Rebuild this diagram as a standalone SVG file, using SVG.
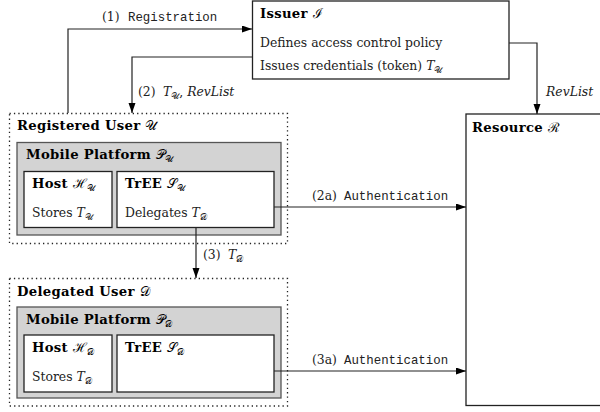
<svg xmlns="http://www.w3.org/2000/svg" width="600" height="412" viewBox="0 0 600 412">
<defs>
<marker id="ah" markerUnits="userSpaceOnUse" markerWidth="11" markerHeight="8" refX="10" refY="3.5" orient="auto">
<path d="M0,0 L10,3.5 L0,7 z" fill="#000"/>
</marker>
<style>
text{font-family:"DejaVu Serif","Liberation Serif",serif;font-size:12.4px;fill:#222}
.b{font-weight:bold;fill:#000;font-size:13.2px;letter-spacing:0.3px}
.n{font-weight:normal;letter-spacing:0}
.m{font-family:"Liberation Mono","DejaVu Sans Mono",monospace;font-size:12.4px}
.i{font-style:italic}
.sub{font-size:8.5px}
.box{fill:#fff;stroke:#222;stroke-width:1.3}
.plat{fill:#d3d3d3;stroke:#555;stroke-width:1.3}
.dot{fill:none;stroke:#222;stroke-width:1.3;stroke-dasharray:1.3 3.1}
.c{fill:none;stroke:#222;stroke-width:1.2;marker-end:url(#ah)}
</style>
</defs>

<g id="issuer">
<rect class="box" x="252.5" y="1" width="256.5" height="78"/>
<text class="b" x="260" y="18">Issuer <tspan class="n">ℐ</tspan></text>
<text x="260" y="47">Defines access control policy</text>
<text x="260" y="70">Issues credentials (token) <tspan class="i">T</tspan><tspan class="sub" dy="3">𝒰</tspan></text>
</g>

<g id="resource">
<rect class="box" x="466" y="114" width="150" height="291.5"/>
<text class="b" x="472" y="132">Resource <tspan class="n">ℛ</tspan></text>
</g>

<g id="registered-user">
<rect class="dot" x="9.5" y="113.5" width="278" height="130"/>
<text class="b" x="17" y="130">Registered User <tspan class="n">𝒰</tspan></text>
<g id="platform-u">
<rect class="plat" x="17" y="142.5" width="264" height="92.5"/>
<text class="b" x="26" y="159">Mobile Platform <tspan class="n">𝒫</tspan><tspan class="sub n" dy="3">𝒰</tspan></text>
</g>
<g id="host-u">
<rect class="box" x="24" y="171.5" width="88" height="56"/>
<text class="b" x="32" y="188">Host <tspan class="n">ℋ</tspan><tspan class="sub n" dy="3">𝒰</tspan></text>
<text x="32" y="217">Stores <tspan class="i">T</tspan><tspan class="sub" dy="3">𝒰</tspan></text>
</g>
<g id="tree-u">
<rect class="box" x="117" y="171.5" width="157" height="56"/>
<text class="b" x="125" y="188">TrEE <tspan class="n">𝒮</tspan><tspan class="sub n" dy="3">𝒰</tspan></text>
<text x="125" y="217">Delegates <tspan class="i">T</tspan><tspan class="sub" dy="3">𝒟</tspan></text>
</g>
</g>

<g id="delegated-user">
<rect class="dot" x="9.5" y="278.5" width="278" height="127.5"/>
<text class="b" x="17" y="296">Delegated User <tspan class="n">𝒟</tspan></text>
<g id="platform-d">
<rect class="plat" x="17" y="307" width="264" height="91"/>
<text class="b" x="26" y="324">Mobile Platform <tspan class="n">𝒫</tspan><tspan class="sub n" dy="3">𝒟</tspan></text>
</g>
<g id="host-d">
<rect class="box" x="24" y="335" width="88" height="57"/>
<text class="b" x="32" y="352">Host <tspan class="n">ℋ</tspan><tspan class="sub n" dy="3">𝒟</tspan></text>
<text x="32" y="381">Stores <tspan class="i">T</tspan><tspan class="sub" dy="3">𝒟</tspan></text>
</g>
<g id="tree-d">
<rect class="box" x="117" y="335" width="157" height="57"/>
<text class="b" x="125" y="352">TrEE <tspan class="n">𝒮</tspan><tspan class="sub n" dy="3">𝒟</tspan></text>
</g>
</g>

<g id="connectors">
<path class="c" d="M68,113 V29 H252"/>
<path class="c" d="M252.5,57 H132 V113"/>
<path class="c" d="M509,43 H537 V114"/>
<path class="c" d="M274,207 H466"/>
<path class="c" d="M196,228 V278"/>
<path class="c" d="M274,371 H466"/>
<text x="102" y="21">(1) <tspan class="m" x="128">Registration</tspan></text>
<text x="138" y="96">(2) <tspan class="i" x="163">T</tspan><tspan class="sub" dy="3">𝒰</tspan><tspan dy="-3">, </tspan><tspan class="i">RevList</tspan></text>
<text class="i" x="546" y="96">RevList</text>
<text x="312" y="200">(2a) <tspan class="m" x="344">Authentication</tspan></text>
<text x="203" y="259">(3) <tspan class="i" x="228">T</tspan><tspan class="sub" dy="3">𝒟</tspan></text>
<text x="312" y="364">(3a) <tspan class="m" x="344">Authentication</tspan></text>
</g>
</svg>
